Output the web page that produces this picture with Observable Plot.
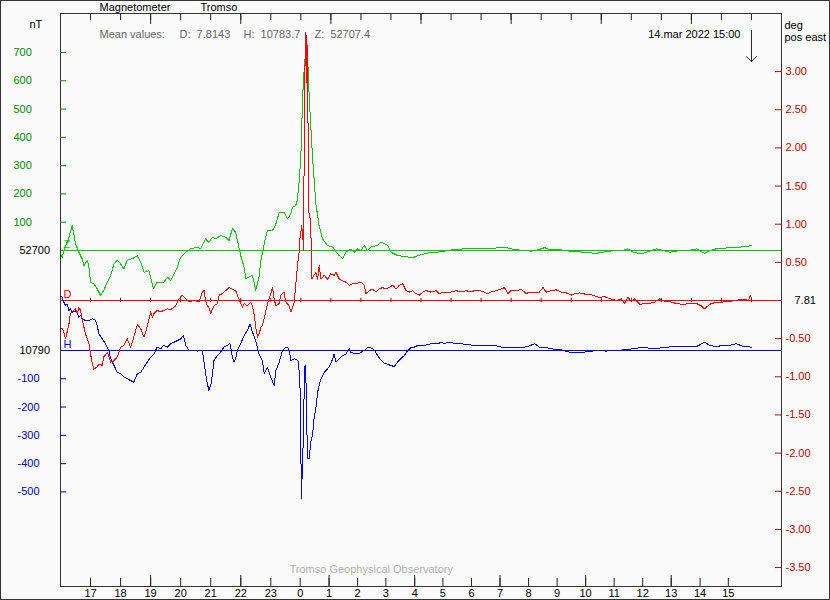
<!DOCTYPE html>
<html>
<head>
<meta charset="utf-8">
<script src="https://cdn.jsdelivr.net/npm/d3@7"></script>
<script src="https://cdn.jsdelivr.net/npm/@observablehq/plot@0.6"></script>
<style>
  html, body { margin: 0; padding: 0; background: #fafafa; }
  #chart svg { display: block; outline: 1px solid #333; outline-offset: -1px; }
</style>
</head>
<body>
<div id="chart"></div>
<script>
// ---------------- DATA ----------------
// time: hours since 13 Mar 2022 00:00 ; values: deviation from baseline
const zBase = 52700;   // nT
const hBase = 10790;   // nT
const dBase = 7.81;    // deg
const meanLabels = ["D:", "H:", "Z:"];
const meanValues = ["7.8143", "10783.7", "52707.4"];

const zSeries = [[16.00,-12],[16.06,-24],[16.11,0],[16.22,29],[16.28,47],[16.39,88],[16.44,59],[16.50,24],[16.61,-6],[16.72,-29],[16.78,-53],[16.89,-35],[16.94,-53],[17.00,-112],[17.11,-118],[17.22,-135],[17.33,-159],[17.44,-141],[17.56,-112],[17.67,-88],[17.78,-47],[17.89,-35],[18.00,-47],[18.11,-65],[18.22,-35],[18.39,-29],[18.56,-18],[18.67,-41],[18.78,-77],[18.94,-71],[19.09,-135],[19.22,-112],[19.44,-112],[19.56,-94],[19.67,-106],[19.78,-82],[19.89,-59],[20.00,-24],[20.17,-6],[20.33,6],[20.56,12],[20.67,6],[20.83,41],[20.94,29],[21.06,47],[21.17,41],[21.33,53],[21.50,47],[21.61,35],[21.72,77],[21.83,65],[21.89,35],[22.00,-18],[22.11,-59],[22.17,-100],[22.28,-94],[22.39,-88],[22.50,-141],[22.61,-94],[22.67,-35],[22.78,24],[22.89,71],[23.06,71],[23.17,94],[23.28,135],[23.44,135],[23.56,112],[23.67,130],[23.72,153],[23.83,159],[23.89,183],[23.94,240],[24.00,330],[24.06,540],[24.11,640],[24.17,718],[24.22,701],[24.28,540],[24.39,330],[24.50,165],[24.61,88],[24.72,41],[24.89,18],[25.06,12],[25.17,-6],[25.28,-18],[25.39,-29],[25.50,-6],[25.67,6],[25.78,-6],[25.89,6],[26.00,0],[26.11,18],[26.22,0],[26.33,12],[26.56,18],[26.67,29],[26.78,24],[26.89,18],[27.00,-6],[27.22,-18],[27.44,-21],[27.72,-26],[27.89,-18],[28.11,-12],[28.33,-6],[28.56,-6],[28.78,-2],[29.00,2],[29.44,6],[29.89,6],[30.33,6],[30.56,10],[30.78,12],[31.00,6],[31.22,2],[31.67,-2],[31.89,2],[32.11,10],[32.33,2],[32.67,2],[32.94,-2],[33.39,-6],[33.83,-10],[34.28,-2],[34.72,0],[34.89,6],[35.06,-6],[35.33,-12],[35.61,-2],[35.83,6],[36.06,0],[36.28,-6],[36.50,-2],[36.72,0],[36.94,0],[37.17,6],[37.44,-10],[37.61,0],[37.83,6],[38.28,10],[38.61,12],[38.83,14],[39.00,18]];

const hSeries = [[16.00,194],[16.06,188],[16.11,171],[16.17,159],[16.22,165],[16.28,141],[16.33,147],[16.39,135],[16.50,141],[16.56,130],[16.61,118],[16.67,124],[16.72,112],[16.83,106],[16.94,106],[17.06,112],[17.17,106],[17.22,88],[17.28,59],[17.39,41],[17.50,24],[17.61,0],[17.67,-29],[17.78,-53],[17.89,-77],[18.00,-82],[18.11,-94],[18.22,-100],[18.33,-106],[18.44,-112],[18.56,-82],[18.67,-77],[18.78,-59],[18.89,-41],[19.00,-24],[19.11,-12],[19.22,12],[19.33,6],[19.44,18],[19.56,12],[19.67,24],[19.78,29],[19.89,35],[20.00,41],[20.09,53],[20.17,18],[20.28,0],[20.44,0],[20.56,-2],[20.72,0],[20.78,-41],[20.83,-82],[20.89,-118],[20.94,-141],[21.00,-124],[21.06,-82],[21.11,-35],[21.22,-18],[21.33,-6],[21.44,12],[21.56,18],[21.64,26],[21.72,-24],[21.78,-41],[21.83,-29],[21.89,0],[22.00,24],[22.11,53],[22.22,71],[22.31,94],[22.39,65],[22.50,35],[22.61,-12],[22.72,-35],[22.78,-82],[22.89,-59],[22.94,-77],[23.00,-94],[23.11,-124],[23.17,-71],[23.28,-41],[23.39,0],[23.50,12],[23.56,12],[23.61,0],[23.67,-35],[23.78,-29],[23.89,-35],[23.92,-41],[23.97,-112],[24.00,-347],[24.02,-524],[24.06,-382],[24.08,-324],[24.11,-147],[24.14,-53],[24.17,-100],[24.19,-206],[24.22,-383],[24.28,-383],[24.33,-324],[24.39,-300],[24.44,-241],[24.50,-206],[24.56,-147],[24.61,-124],[24.67,-100],[24.78,-77],[24.89,-65],[25.00,-47],[25.06,-29],[25.11,-12],[25.17,-41],[25.28,-29],[25.39,-18],[25.50,-12],[25.61,6],[25.67,-7],[25.83,-12],[25.94,-10],[26.11,0],[26.22,10],[26.33,10],[26.44,2],[26.56,-18],[26.67,-35],[26.78,-45],[26.89,-49],[27.00,-53],[27.11,-57],[27.22,-41],[27.33,-29],[27.44,-18],[27.56,0],[27.67,10],[27.78,12],[27.89,18],[28.11,18],[28.33,24],[28.56,24],[28.67,29],[28.78,24],[28.89,29],[29.11,26],[29.33,24],[29.56,21],[29.78,18],[30.00,18],[30.22,18],[30.44,18],[30.67,12],[30.89,10],[31.11,12],[31.33,10],[31.56,14],[31.78,24],[31.94,12],[32.11,12],[32.33,6],[32.67,2],[32.94,-6],[33.17,-6],[33.39,-6],[33.61,-4],[33.83,0],[34.17,-2],[34.50,0],[34.72,2],[35.06,6],[35.39,12],[35.72,6],[36.06,10],[36.39,14],[36.72,14],[37.17,14],[37.44,29],[37.61,18],[37.83,14],[38.06,18],[38.28,18],[38.50,24],[38.72,14],[39.00,12]];

const dSeries = [[16.00,-0.36],[16.07,-0.37],[16.17,-0.50],[16.28,-0.31],[16.33,-0.17],[16.44,-0.13],[16.50,-0.11],[16.56,-0.17],[16.61,-0.09],[16.67,-0.13],[16.72,-0.24],[16.83,-0.44],[16.89,-0.50],[16.94,-0.55],[17.00,-0.70],[17.06,-0.83],[17.11,-0.90],[17.22,-0.87],[17.28,-0.83],[17.39,-0.85],[17.44,-0.74],[17.56,-0.68],[17.67,-0.81],[17.78,-0.79],[17.89,-0.74],[18.00,-0.61],[18.11,-0.59],[18.22,-0.50],[18.33,-0.61],[18.39,-0.55],[18.44,-0.48],[18.56,-0.31],[18.67,-0.37],[18.78,-0.48],[18.83,-0.42],[18.94,-0.26],[19.00,-0.15],[19.06,-0.22],[19.11,-0.17],[19.22,-0.13],[19.33,-0.15],[19.44,-0.13],[19.56,-0.11],[19.67,-0.12],[19.83,-0.07],[19.94,0.02],[20.06,0.07],[20.17,0.02],[20.28,-0.02],[20.44,0.00],[20.61,-0.02],[20.72,0.11],[20.78,0.13],[20.83,0.00],[20.89,-0.07],[20.94,-0.09],[21.00,-0.17],[21.06,-0.11],[21.11,-0.07],[21.22,-0.04],[21.28,0.07],[21.39,0.09],[21.50,0.13],[21.61,0.17],[21.72,0.15],[21.83,0.13],[21.94,0.02],[22.06,-0.09],[22.11,-0.04],[22.22,-0.07],[22.33,-0.02],[22.39,-0.07],[22.44,-0.17],[22.50,-0.35],[22.56,-0.48],[22.61,-0.44],[22.67,-0.35],[22.72,-0.33],[22.83,-0.15],[22.89,-0.04],[23.00,0.09],[23.06,0.17],[23.11,0.02],[23.17,-0.07],[23.28,-0.04],[23.33,0.07],[23.44,0.11],[23.50,-0.02],[23.61,-0.07],[23.67,-0.15],[23.78,-0.02],[23.83,0.20],[23.89,0.46],[23.94,0.63],[23.97,0.81],[24.00,0.89],[24.03,0.98],[24.07,0.81],[24.09,0.66],[24.11,1.86],[24.13,2.95],[24.17,3.52],[24.19,3.17],[24.20,2.86],[24.22,3.34],[24.24,2.29],[24.26,1.16],[24.30,1.11],[24.33,0.98],[24.37,0.28],[24.44,0.33],[24.50,0.37],[24.56,0.28],[24.61,0.46],[24.67,0.28],[24.78,0.33],[24.89,0.28],[25.00,0.35],[25.11,0.33],[25.17,0.37],[25.28,0.28],[25.39,0.26],[25.50,0.24],[25.61,0.20],[25.72,0.22],[25.83,0.22],[26.00,0.24],[26.11,0.20],[26.17,0.09],[26.28,0.13],[26.39,0.15],[26.50,0.11],[26.61,0.15],[26.72,0.17],[26.83,0.15],[26.94,0.17],[27.06,0.20],[27.17,0.15],[27.28,0.20],[27.39,0.22],[27.50,0.13],[27.61,0.11],[27.72,0.13],[27.83,0.09],[27.94,0.07],[28.06,0.11],[28.17,0.13],[28.33,0.11],[28.50,0.13],[28.61,0.09],[28.78,0.11],[29.00,0.11],[29.17,0.13],[29.33,0.11],[29.50,0.13],[29.67,0.11],[29.78,0.13],[29.94,0.13],[30.11,0.11],[30.22,0.09],[30.33,0.11],[30.50,0.13],[30.67,0.15],[30.78,0.17],[30.89,0.09],[31.00,0.13],[31.22,0.13],[31.33,0.15],[31.50,0.09],[31.61,0.11],[31.78,0.11],[31.94,0.11],[32.06,0.17],[32.17,0.11],[32.33,0.13],[32.50,0.14],[32.67,0.11],[32.83,0.10],[33.00,0.07],[33.11,0.09],[33.28,0.10],[33.50,0.08],[33.72,0.07],[33.94,0.04],[34.11,0.05],[34.33,0.02],[34.50,0.00],[34.67,0.02],[34.78,-0.04],[34.89,0.04],[35.00,-0.01],[35.11,0.02],[35.28,-0.05],[35.44,-0.04],[35.61,-0.04],[35.78,-0.02],[35.94,0.02],[36.11,-0.01],[36.33,-0.02],[36.50,-0.04],[36.72,-0.05],[36.94,-0.04],[37.17,-0.04],[37.33,-0.07],[37.44,-0.11],[37.61,-0.05],[37.83,-0.02],[38.06,-0.02],[38.28,-0.01],[38.50,0.00],[38.72,0.02],[38.89,0.00],[38.96,0.06],[39.00,0.03]];

// axis tick values / labels
const zTicks = [100, 200, 300, 400, 500, 600, 700];
const hTicks = [-100, -200, -300, -400, -500];
const dTicks = [3.0, 2.5, 2.0, 1.5, 1.0, 0.5, -0.5, -1.0, -1.5, -2.0, -2.5, -3.0, -3.5];
const topHours = d3.range(17, 40);               // hourly ticks, 13 Mar 17:00 .. 14 Mar 15:00
const topLongHours = [19, 22, 25, 28, 31, 34, 37];
const bottomLabels = ["17","18","19","20","21","22","23","0","1","2","3","4","5","6","7","8","9","10","11","12","13","14","15"];
const bottomPos = [17,18,19,20,21,22,23,23.98,24.94,25.89,26.83,27.79,28.73,29.68,30.63,31.58,32.53,33.48,34.43,35.38,36.33,37.29,38.23];
const bottomLong = ["19","22","1","4","7","10","13"];
const endTime = 39;   // 14 Mar 15:00
const endLabel = "14.mar 2022 15:00";

// ---------------- LAYOUT ----------------
const PX = 198 / 700;          // pixels per nT
const Y_TOP = 237 / PX, Y_BOT = -336 / PX;
const H_OFF = -100 / PX;       // H baseline position in Z-nT units
const D_OFF = -50 / PX;        // D baseline
const D_K = 76.3 / PX;         // nT-units per degree
const yH = v => v + H_OFF;
const yD = v => v * D_K + D_OFF;
const pxY = p => (250 - p) / PX;
const MEAN_DX = [119, 183, 254];

const GREEN = "#00c800", GREEN_T = "#008c00";
const BLUE = "#0000ff", BLUE_T = "#0000c8";
const RED = "#ff0000", RED_T = "#c80000";
const INK = "#222";
const FS = 11;

const toRows = s => s.map(([t, v]) => ({t, v}));
const label = (txt, opts) => Plot.text([txt], {textAnchor: "start", lineAnchor: "middle", fill: "#000", fontSize: FS, ...opts});

const chart = Plot.plot({
  width: 830, height: 600,
  marginLeft: 60, marginRight: 49, marginTop: 13, marginBottom: 14,
  x: {domain: [16, 40], axis: null},
  y: {domain: [Y_BOT, Y_TOP], axis: null},
  style: {background: "#fafafa", fontFamily: "'Liberation Sans', Arial, sans-serif", fontSize: "11px", color: "#000"},
  marks: [
    // baselines
    Plot.ruleY([0], {stroke: GREEN}),
    Plot.ruleY([yD(0)], {stroke: RED}),
    Plot.ruleY([yH(0)], {stroke: BLUE}),
    // traces
    Plot.line(toRows(zSeries), {x: "t", y: "v", stroke: GREEN, strokeWidth: 1, shapeRendering: "crispEdges"}),
    Plot.line(toRows(hSeries), {x: "t", y: d => yH(d.v), stroke: BLUE, strokeWidth: 1, shapeRendering: "crispEdges"}),
    Plot.line(toRows(dSeries), {x: "t", y: d => yD(d.v), stroke: RED, strokeWidth: 1, shapeRendering: "crispEdges"}),
    // hour ticks on D baseline
    Plot.ruleX(topHours, {x: d => d, y1: yD(0) - 2.2 / PX, y2: yD(0) + 2.2 / PX, stroke: "#a00000"}),
    // frame
    Plot.frame({stroke: "#333"}),
    // top ticks
    Plot.ruleX(topHours, {x: d => d, y1: Y_TOP, y2: Y_TOP - 7 / PX, stroke: INK}),
    Plot.ruleX(topLongHours, {x: d => d, y1: Y_TOP, y2: Y_TOP - 11 / PX, stroke: INK}),
    // bottom ticks and labels
    Plot.ruleX(bottomPos, {x: d => d, y1: Y_BOT, y2: Y_BOT + 8 / PX, stroke: INK}),
    Plot.ruleX(bottomPos.filter((d, i) => bottomLong.includes(bottomLabels[i])), {x: d => d, y1: Y_BOT, y2: Y_BOT + 11 / PX, stroke: INK}),
    Plot.text(bottomPos, {x: d => d, text: (d, i) => bottomLabels[i], frameAnchor: "bottom", dy: 7, lineAnchor: "middle", fill: "#000", fontSize: FS}),
    // left axis: Z (green) and H (blue)
    Plot.ruleY(zTicks, {y: d => d, x1: 16, x2: 16 + 6 / 30, stroke: GREEN_T}),
    Plot.text(zTicks, {y: d => d, text: d => String(d), frameAnchor: "left", dx: -47, textAnchor: "start", fill: GREEN_T, fontSize: FS}),
    Plot.ruleY(hTicks, {y: d => yH(d), x1: 16, x2: 16 + 6 / 30, stroke: BLUE_T}),
    Plot.text(hTicks, {y: d => yH(d), text: d => String(d), frameAnchor: "left", dx: -43, textAnchor: "start", fill: BLUE_T, fontSize: FS}),
    Plot.text([zBase], {y: 0, text: d => String(d), frameAnchor: "left", dx: -41, textAnchor: "start", fill: "#000", fontSize: FS}),
    Plot.text([hBase], {y: yH(0), text: d => String(d), frameAnchor: "left", dx: -41, textAnchor: "start", fill: "#000", fontSize: FS}),
    // right axis: D (red)
    Plot.ruleY(dTicks, {y: d => yD(d), x1: 40 - 6 / 30, x2: 40, stroke: RED_T}),
    Plot.text(dTicks, {y: d => yD(d), text: d => d.toFixed(2), frameAnchor: "right", dx: 4, textAnchor: "start", fill: RED_T, fontSize: FS}),
    Plot.text([dBase], {y: yD(0), text: d => d.toFixed(2), frameAnchor: "right", dx: 13, textAnchor: "start", fill: "#000", fontSize: FS}),
    // series letters
    label("Z", {y: 0, frameAnchor: "left", dx: 3, dy: -6, fill: GREEN}),
    label("D", {y: yD(0), frameAnchor: "left", dx: 3, dy: -6, fill: RED}),
    label("H", {y: yH(0), frameAnchor: "left", dx: 3, dy: -6, fill: BLUE}),
    // header texts
    label("Magnetometer", {frameAnchor: "top-left", dx: 39, dy: -6}),
    label("Tromso", {frameAnchor: "top-left", dx: 140, dy: -6}),
    label("nT", {frameAnchor: "top-left", dx: -31, dy: 11}),
    label("Mean values:", {frameAnchor: "top-left", dx: 39, dy: 21, fill: "#666"}),
    ...meanLabels.map((l, i) => label(l + "  " + meanValues[i], {frameAnchor: "top-left", dx: MEAN_DX[i], dy: 21, fill: "#666"})),
    label("deg", {frameAnchor: "top-right", dx: 3, dy: 12}),
    label("pos east", {frameAnchor: "top-right", dx: 3, dy: 24}),
    label(endLabel, {frameAnchor: "top-right", dx: -41, dy: 21, textAnchor: "end"}),
    Plot.arrow([endTime], {x: d => d, y1: pxY(30), y2: pxY(61), stroke: INK, strokeWidth: 1, headAngle: 90, headLength: 10.5}),
    label("Tromso Geophysical Observatory", {frameAnchor: "bottom-left", dx: 229, dy: -17, fill: "#b0b0b0"})
  ]
});
document.getElementById("chart").appendChild(chart);
</script>
</body>
</html>
